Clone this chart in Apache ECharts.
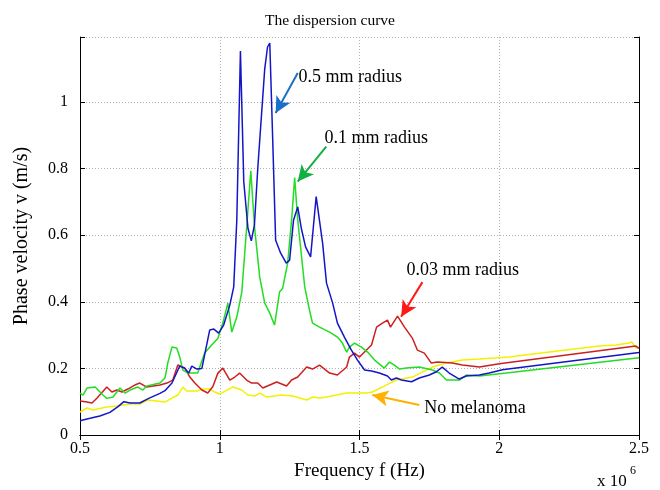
<!DOCTYPE html>
<html>
<head>
<meta charset="utf-8">
<script src="https://cdn.jsdelivr.net/npm/echarts@6/dist/echarts.min.js"></script>
<style>
  html, body { margin: 0; padding: 0; background: #fff; }
  #chart { width: 660px; height: 490px; }
</style>
</head>
<body>
<div id="chart"></div>
<script>
// frequency in units of 1e6 Hz, phase velocity in m/s
const freqBlue = [0.5, 0.536, 0.571, 0.607, 0.636, 0.657, 0.679, 0.714, 0.746, 0.786, 0.804, 0.829, 0.857, 0.875, 0.889, 0.9, 0.918, 0.936, 0.964, 0.979, 0.996, 1.014, 1.036, 1.05, 1.061, 1.074, 1.086, 1.101, 1.113, 1.124, 1.136, 1.161, 1.171, 1.179, 1.189, 1.2, 1.218, 1.238, 1.25, 1.264, 1.279, 1.292, 1.307, 1.325, 1.345, 1.368, 1.382, 1.404, 1.421, 1.446, 1.471, 1.493, 1.518, 1.543, 1.571, 1.6, 1.614, 1.632, 1.65, 1.686, 1.714, 1.75, 1.775, 1.796, 1.821, 1.857, 1.882, 1.929, 1.964, 2.011, 2.5];
const velBlue = [0.043, 0.05, 0.057, 0.068, 0.085, 0.1, 0.096, 0.096, 0.11, 0.125, 0.133, 0.156, 0.207, 0.2, 0.186, 0.207, 0.198, 0.2, 0.315, 0.318, 0.306, 0.33, 0.39, 0.445, 0.645, 1.153, 0.76, 0.62, 0.583, 0.63, 0.8, 1.1, 1.165, 1.177, 0.9, 0.585, 0.546, 0.516, 0.525, 0.645, 0.685, 0.62, 0.565, 0.535, 0.716, 0.576, 0.456, 0.396, 0.336, 0.294, 0.255, 0.225, 0.195, 0.192, 0.186, 0.177, 0.165, 0.171, 0.165, 0.16, 0.171, 0.18, 0.19, 0.204, 0.186, 0.168, 0.177, 0.18, 0.186, 0.196, 0.248];

const freqGreen = [0.5, 0.511, 0.525, 0.554, 0.582, 0.596, 0.618, 0.643, 0.661, 0.679, 0.707, 0.725, 0.739, 0.786, 0.804, 0.814, 0.829, 0.846, 0.857, 0.868, 0.886, 0.921, 0.946, 0.971, 0.993, 1.011, 1.029, 1.043, 1.061, 1.079, 1.096, 1.111, 1.125, 1.143, 1.161, 1.179, 1.196, 1.214, 1.225, 1.243, 1.257, 1.268, 1.279, 1.304, 1.321, 1.332, 1.357, 1.393, 1.421, 1.439, 1.454, 1.464, 1.482, 1.507, 1.529, 1.554, 1.589, 1.607, 1.625, 1.643, 1.668, 1.714, 1.761, 1.786, 1.811, 1.857, 1.882, 1.929, 2.025, 2.5];
const velGreen = [0.126, 0.12, 0.141, 0.144, 0.12, 0.11, 0.114, 0.141, 0.126, 0.135, 0.144, 0.135, 0.147, 0.156, 0.171, 0.216, 0.264, 0.261, 0.234, 0.195, 0.186, 0.186, 0.246, 0.27, 0.29, 0.336, 0.396, 0.309, 0.354, 0.43, 0.62, 0.793, 0.62, 0.474, 0.396, 0.366, 0.33, 0.43, 0.44, 0.516, 0.645, 0.773, 0.645, 0.445, 0.375, 0.336, 0.324, 0.309, 0.294, 0.276, 0.249, 0.264, 0.276, 0.264, 0.249, 0.225, 0.201, 0.219, 0.21, 0.198, 0.201, 0.204, 0.195, 0.186, 0.165, 0.165, 0.18, 0.177, 0.186, 0.232];

const freqRed = [0.5, 0.525, 0.543, 0.561, 0.596, 0.614, 0.632, 0.65, 0.671, 0.696, 0.714, 0.739, 0.786, 0.811, 0.832, 0.85, 0.857, 0.875, 0.893, 0.911, 0.936, 0.957, 0.975, 0.993, 1.011, 1.036, 1.054, 1.071, 1.096, 1.114, 1.136, 1.154, 1.179, 1.204, 1.239, 1.257, 1.279, 1.311, 1.332, 1.357, 1.393, 1.421, 1.454, 1.464, 1.482, 1.5, 1.525, 1.543, 1.561, 1.582, 1.6, 1.611, 1.636, 1.661, 1.689, 1.707, 1.732, 1.757, 1.779, 1.832, 1.868, 1.929, 2.0, 2.489, 2.5];
const velRed = [0.102, 0.099, 0.096, 0.111, 0.144, 0.129, 0.135, 0.129, 0.138, 0.15, 0.156, 0.144, 0.15, 0.156, 0.165, 0.21, 0.216, 0.201, 0.174, 0.156, 0.135, 0.126, 0.145, 0.185, 0.201, 0.165, 0.174, 0.186, 0.165, 0.156, 0.156, 0.141, 0.15, 0.159, 0.147, 0.165, 0.174, 0.204, 0.198, 0.21, 0.186, 0.18, 0.204, 0.234, 0.246, 0.234, 0.255, 0.27, 0.324, 0.336, 0.345, 0.324, 0.357, 0.324, 0.291, 0.255, 0.246, 0.216, 0.219, 0.216, 0.21, 0.204, 0.214, 0.267, 0.26];

const freqYellow = [0.5, 0.525, 0.546, 0.596, 0.632, 0.679, 0.714, 0.743, 0.804, 0.829, 0.85, 0.868, 0.882, 0.918, 0.939, 0.964, 0.982, 1.0, 1.046, 1.079, 1.1, 1.125, 1.143, 1.168, 1.221, 1.261, 1.311, 1.332, 1.357, 1.382, 1.418, 1.454, 1.489, 1.525, 1.546, 1.582, 1.607, 1.632, 1.689, 1.725, 1.761, 1.811, 1.868, 1.929, 2.036, 2.179, 2.357, 2.418, 2.464, 2.475, 2.489, 2.5];
const velYellow = [0.069, 0.081, 0.075, 0.084, 0.087, 0.093, 0.093, 0.105, 0.099, 0.111, 0.12, 0.144, 0.132, 0.132, 0.138, 0.138, 0.129, 0.123, 0.144, 0.135, 0.12, 0.117, 0.126, 0.114, 0.12, 0.117, 0.105, 0.114, 0.111, 0.114, 0.12, 0.126, 0.126, 0.126, 0.129, 0.144, 0.155, 0.165, 0.174, 0.189, 0.204, 0.216, 0.225, 0.228, 0.234, 0.249, 0.267, 0.27, 0.276, 0.279, 0.261, 0.262];

const xTicks = [0.5, 1, 1.5, 2, 2.5];
const yTicks = [0, 0.2, 0.4, 0.6, 0.8, 1];

const annotLabels = ['0.5 mm radius', '0.1 mm radius', '0.03 mm radius', 'No melanoma'];
const annotColors = ['#1a6fc9', '#12b040', '#ff1a1a', '#ffb000'];
const annotText = [[1.282, 1.075], [1.375, 0.892], [1.668, 0.495], [1.732, 0.081]];
const annotTail = [[1.279, 1.087], [1.381, 0.866], [1.725, 0.459], [1.714, 0.09]];
const annotHead = [[1.2, 0.967], [1.279, 0.761], [1.649, 0.355], [1.546, 0.12]];

const serif = '"Liberation Serif", "DejaVu Serif", serif';

function zip(xs, ys) {
  return xs.map(function (x, i) { return [x, ys[i]]; });
}

const chart = echarts.init(document.getElementById('chart'), null, { renderer: 'canvas' });

function arrowLine(i) {
  return {
    silent: true,
    symbol: ['none', 'arrow'],
    symbolSize: [12, 16],
    label: { show: false },
    lineStyle: { color: annotColors[i], width: 2, type: 'solid' },
    emphasis: { disabled: true },
    data: [[{ coord: annotTail[i] }, { coord: annotHead[i] }]]
  };
}

function lineSeries(name, data, color, arrowIdx) {
  return {
    name: name,
    type: 'line',
    data: data,
    showSymbol: false,
    smooth: false,
    animation: false,
    lineStyle: { color: color, width: 1.5 },
    itemStyle: { color: color },
    markLine: arrowLine(arrowIdx)
  };
}

const boxAxis = {
  type: 'value',
  axisLine: { show: true, lineStyle: { color: '#000', width: 1 } },
  axisTick: { show: true, inside: true, length: 5, lineStyle: { color: '#000' } },
  axisLabel: { show: false },
  splitLine: { show: false }
};

const option = {
  backgroundColor: '#ffffff',
  animation: false,
  title: {
    text: 'The dispersion curve',
    left: 'center',
    top: 8,
    textStyle: { fontFamily: serif, fontSize: 15.5, fontWeight: 'normal', color: '#000' }
  },
  grid: { left: 80, right: 21, top: 37, bottom: 55 },
  xAxis: [{
    type: 'value',
    min: 0.5,
    max: 2.5,
    interval: 0.5,
    name: 'Frequency f (Hz)',
    nameLocation: 'middle',
    nameGap: 26,
    nameTextStyle: { fontFamily: serif, fontSize: 19, color: '#000' },
    axisLine: { show: true, onZero: false, lineStyle: { color: '#000', width: 1 } },
    axisTick: { show: true, inside: true, length: 5, lineStyle: { color: '#000' } },
    axisLabel: {
      fontFamily: serif, fontSize: 16, color: '#000', margin: 6,
      formatter: function (v) { return xTicks.indexOf(v) >= 0 ? String(v) : ''; }
    },
    splitLine: { show: true, lineStyle: { color: '#b0b0b0', type: [1, 2], width: 1 } }
  }, Object.assign({}, boxAxis, { position: 'top', min: 0.5, max: 2.5, interval: 0.5 })],
  yAxis: [{
    type: 'value',
    min: 0,
    max: 1.195,
    interval: 0.2,
    name: 'Phase velocity v (m/s)',
    nameLocation: 'middle',
    nameGap: 48,
    nameTextStyle: { fontFamily: serif, fontSize: 20, color: '#000' },
    axisLine: { show: true, lineStyle: { color: '#000', width: 1 } },
    axisTick: { show: true, inside: true, length: 5, lineStyle: { color: '#000' } },
    axisLabel: {
      fontFamily: serif, fontSize: 16, color: '#000', margin: 12,
      formatter: function (v) {
        const t = yTicks.find(function (y) { return Math.abs(y - v) < 1e-6; });
        return t === undefined ? '' : String(t);
      }
    },
    splitLine: { show: true, lineStyle: { color: '#b0b0b0', type: [1, 2], width: 1 } }
  }, Object.assign({}, boxAxis, { position: 'right', min: 0, max: 1.195, interval: 0.2 })],
  series: [
    lineSeries('No melanoma', zip(freqYellow, velYellow), '#f2f200', 3),
    lineSeries('0.03 mm radius', zip(freqRed, velRed), '#cc2020', 2),
    lineSeries('0.1 mm radius', zip(freqGreen, velGreen), '#22dd22', 1),
    lineSeries('0.5 mm radius', zip(freqBlue, velBlue), '#1515c8', 0)
  ]
};

chart.setOption(option);

// annotation texts and the x 10^6 multiplier, placed through the axes
const texts = annotLabels.map(function (label, i) {
  const p = chart.convertToPixel({ xAxisIndex: 0, yAxisIndex: 0 }, annotText[i]);
  return {
    type: 'text',
    x: p[0],
    y: p[1],
    silent: true,
    style: { text: label, fill: '#000', font: '18px ' + serif, verticalAlign: 'middle', align: 'left' }
  };
});
const corner = chart.convertToPixel({ xAxisIndex: 0, yAxisIndex: 0 }, [2.5, 0]);
texts.push({
  type: 'text', x: corner[0] - 42, y: corner[1] + 47, silent: true,
  style: { text: 'x 10', fill: '#000', font: '17px ' + serif, verticalAlign: 'middle' }
});
texts.push({
  type: 'text', x: corner[0] - 9, y: corner[1] + 36, silent: true,
  style: { text: '6', fill: '#000', font: '12px ' + serif, verticalAlign: 'middle' }
});
chart.setOption({ graphic: texts });
</script>
</body>
</html>
